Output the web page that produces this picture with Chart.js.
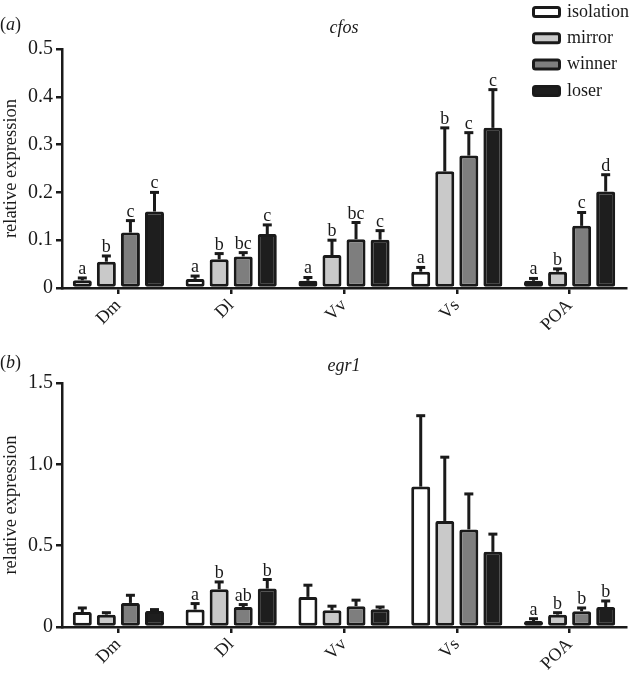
<!DOCTYPE html>
<html>
<head>
<meta charset="utf-8">
<script src="https://cdn.jsdelivr.net/npm/chart.js@4.4.1/dist/chart.umd.min.js"></script>
<style>
  body { margin: 0; background: #fff; }
  #wrap { position: relative; width: 639px; height: 678px; overflow: hidden; }
  canvas { position: absolute; left: 0; }
</style>
</head>
<body>
<div id="wrap">
  <canvas id="cfos" width="639" height="340" style="top:0"></canvas>
  <canvas id="egr1" width="639" height="348" style="top:330px"></canvas>
</div>
<script>
const regions = ['Dm', 'Dl', 'Vv', 'Vs', 'POA'];
const groups = ['isolation', 'mirror', 'winner', 'loser'];
const groupColors = ['#ffffff', '#c9c9c9', '#7e7e7e', '#1e1e1e'];

// cfos - bar heights and upper error (sem)
const cfosIsolation = [0.016, 0.019, 0.015, 0.034, 0.015];
const cfosMirror    = [0.055, 0.060, 0.069, 0.244, 0.034];
const cfosWinner    = [0.116, 0.066, 0.102, 0.277, 0.130];
const cfosLoser     = [0.160, 0.113, 0.101, 0.335, 0.202];
const cfosIsolationErr = [0.005, 0.006, 0.007, 0.009, 0.005];
const cfosMirrorErr    = [0.012, 0.012, 0.031, 0.091, 0.006];
const cfosWinnerErr    = [0.025, 0.008, 0.035, 0.048, 0.028];
const cfosLoserErr     = [0.040, 0.019, 0.019, 0.080, 0.035];
const cfosLetters = [
  ['a', 'a', 'a', 'a', 'a'],
  ['b', 'b', 'b', 'b', 'b'],
  ['c', 'bc', 'bc', 'c', 'c'],
  ['c', 'c', 'c', 'c', 'd']
];
const cfosTicks = [0, 0.1, 0.2, 0.3, 0.4, 0.5];

// egr1
const egr1Isolation = [0.092, 0.107, 0.185, 0.863, 0.037];
const egr1Mirror    = [0.076, 0.232, 0.103, 0.652, 0.076];
const egr1Winner    = [0.148, 0.123, 0.128, 0.600, 0.097];
const egr1Loser     = [0.099, 0.236, 0.109, 0.462, 0.123];
const egr1IsolationErr = [0.025, 0.037, 0.072, 0.436, 0.014];
const egr1MirrorErr    = [0.012, 0.045, 0.025, 0.392, 0.012];
const egr1WinnerErr    = [0.047, 0.015, 0.037, 0.218, 0.020];
const egr1LoserErr     = [0.008, 0.056, 0.014, 0.109, 0.037];
const egr1Letters = [
  ['', 'a', '', '', 'a'],
  ['', 'b', '', '', 'b'],
  ['', 'ab', '', '', 'b'],
  ['', 'b', '', '', 'b']
];
const egr1Ticks = [0, 0.5, 1.0, 1.5];

const ink = '#1a1a1a';
const serif = '"Liberation Serif", "DejaVu Serif", serif';

function overlay(gene, panel, errs, letters, geneY, showLegend) {
  return {
    id: 'overlay',
    afterDatasetsDraw(chart) {
      const ctx = chart.ctx;
      const y = chart.scales.y;
      ctx.save();
      ctx.strokeStyle = ink;
      ctx.fillStyle = ink;
      ctx.lineWidth = 3;
      ctx.lineCap = 'butt';
      ctx.font = '18px ' + serif;
      ctx.textAlign = 'center';
      ctx.textBaseline = 'alphabetic';
      chart.data.datasets.forEach((ds, i) => {
        const meta = chart.getDatasetMeta(i);
        meta.data.forEach((bar, j) => {
          const top = y.getPixelForValue(ds.data[j] + errs[i][j]);
          ctx.beginPath();
          ctx.moveTo(bar.x, bar.y);
          ctx.lineTo(bar.x, top);
          ctx.stroke();
          ctx.beginPath();
          ctx.moveTo(bar.x - 4.5, top);
          ctx.lineTo(bar.x + 4.5, top);
          ctx.stroke();
          if (letters[i][j]) ctx.fillText(letters[i][j], bar.x, top - 4);
        });
      });
      ctx.restore();
    },
    afterDraw(chart) {
      const ctx = chart.ctx;
      const area = chart.chartArea;
      ctx.save();
      ctx.fillStyle = ink;
      ctx.textBaseline = 'middle';
      ctx.font = 'italic 18px ' + serif;
      ctx.textAlign = 'center';
      ctx.fillText(gene, (area.left + area.right) / 2, geneY);
      ctx.textAlign = 'left';
      ctx.font = '18px ' + serif;
      ctx.fillText('(', 0, geneY - 3);
      const w1 = ctx.measureText('(').width;
      ctx.font = 'italic 18px ' + serif;
      ctx.fillText(panel, w1, geneY - 3);
      const w2 = ctx.measureText(panel).width;
      ctx.font = '18px ' + serif;
      ctx.fillText(')', w1 + w2, geneY - 3);
      if (showLegend) {
        groups.forEach((g, i) => {
          const cy = 12 + i * 26.3;
          ctx.beginPath();
          ctx.roundRect(533.5, cy - 4.5, 26, 9, 2);
          ctx.fillStyle = groupColors[i];
          ctx.fill();
          ctx.lineWidth = 3;
          ctx.strokeStyle = ink;
          ctx.stroke();
          ctx.fillStyle = ink;
          ctx.fillText(g, 567, cy);
        });
      }
      ctx.restore();
    }
  };
}

function makeChart(id, series, errs, letters, ticks, padTop, padBottom, xHeight, gene, panel, geneY, showLegend) {
  new Chart(document.getElementById(id), {
    type: 'bar',
    data: {
      labels: regions,
      datasets: series.map((values, i) => ({
        label: groups[i],
        data: values,
        backgroundColor: groupColors[i],
        borderColor: ink,
        borderWidth: 3,
        borderSkipped: false,
        borderRadius: 2,
        barPercentage: 0.79,
        categoryPercentage: 0.853
      }))
    },
    options: {
      responsive: false,
      animation: false,
      devicePixelRatio: 1,
      layout: { padding: { top: padTop, right: 13, bottom: padBottom, left: 0 } },
      plugins: { legend: { display: false }, tooltip: { enabled: false } },
      scales: {
        x: {
          grid: { drawOnChartArea: false, drawTicks: true, tickLength: 6, offset: false, color: ink, lineWidth: 2.5 },
          border: { display: true, color: ink, width: 2.5 },
          ticks: {
            color: ink, font: { family: serif, size: 18 },
            minRotation: 45, maxRotation: 45, autoSkip: false, padding: 1
          },
          afterFit(scale) { scale.height = xHeight; }
        },
        y: {
          min: ticks[0],
          max: ticks[ticks.length - 1],
          afterBuildTicks(scale) { scale.ticks = ticks.map(v => ({ value: v })); },
          grid: { drawOnChartArea: false, drawTicks: true, tickLength: 6, color: ink, lineWidth: 2.5 },
          border: { display: true, color: ink, width: 2.5 },
          ticks: {
            color: ink, font: { family: serif, size: 20 }, padding: 3,
            callback: v => v === 0 ? '0' : v.toFixed(1)
          },
          title: {
            display: true, text: 'relative expression', color: ink,
            font: { family: serif, size: 18.5 }, padding: { top: 0, bottom: 2 }
          },
          afterFit(scale) { scale.width = 62; }
        }
      }
    },
    plugins: [overlay(gene, panel, errs, letters, geneY, showLegend)]
  });
}

makeChart('cfos',
  [cfosIsolation, cfosMirror, cfosWinner, cfosLoser],
  [cfosIsolationErr, cfosMirrorErr, cfosWinnerErr, cfosLoserErr],
  cfosLetters, cfosTicks, 49, 10, 42, 'cfos', 'a', 28, true);

makeChart('egr1',
  [egr1Isolation, egr1Mirror, egr1Winner, egr1Loser],
  [egr1IsolationErr, egr1MirrorErr, egr1WinnerErr, egr1LoserErr],
  egr1Letters, egr1Ticks, 53, 0, 51, 'egr1', 'b', 36, false);
</script>
</body>
</html>
